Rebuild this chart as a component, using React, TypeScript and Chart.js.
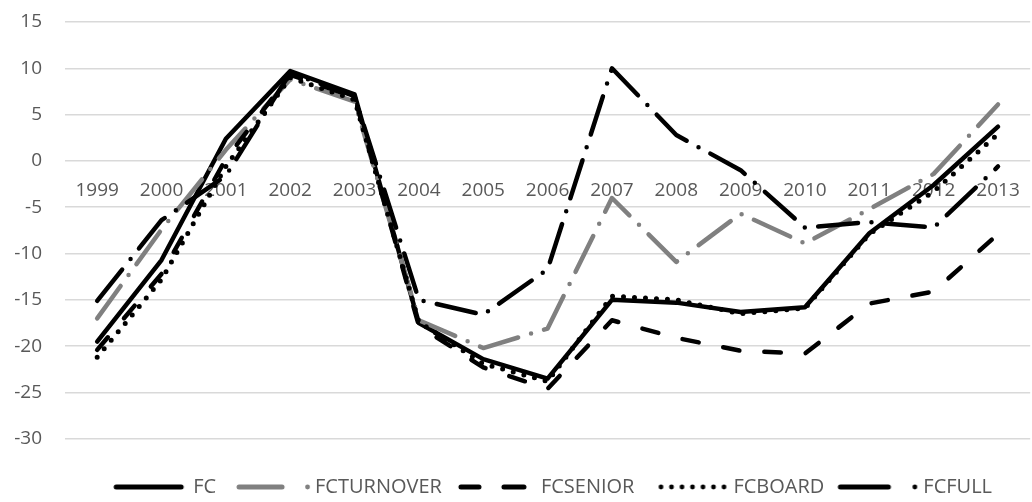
import React, { useEffect, useRef } from 'react';
import { Chart, registerables } from 'chart.js';

Chart.register(...registerables);

const years = ['1999', '2000', '2001', '2002', '2003', '2004', '2005', '2006', '2007', '2008', '2009', '2010', '2011', '2012', '2013'];
const seriesNames = ['FC', 'FCTURNOVER', 'FCSENIOR', 'FCBOARD', 'FCFULL'];
const fc = [-19.5, -10.7, 2.4, 9.7, 7.2, -17.5, -21.4, -23.5, -15.0, -15.3, -16.3, -15.8, -7.8, -2.6, 3.7];
const fcTurnover = [-17.0, -7.4, 1.2, 8.8, 6.4, -17.2, -20.2, -18.1, -4.0, -10.9, -5.7, -8.9, -5.2, -1.4, 6.1];
const fcSenior = [-20.4, -12.2, 0.2, 9.3, 6.9, -17.8, -22.3, -24.6, -17.2, -19.1, -20.5, -20.8, -15.4, -14.1, -7.9];
const fcBoard = [-21.2, -12.8, -0.6, 9.0, 6.6, -17.4, -21.9, -23.8, -14.6, -15.0, -16.5, -15.9, -7.9, -3.3, 2.9];
const fcFull = [-15.1, -6.4, -1.6, 9.5, 7.0, -15.0, -16.6, -11.7, 10.0, 2.8, -1.0, -7.2, -6.6, -7.2, -0.6];
const yMin = -30;
const yMax = 15;
const yStep = 5;

const BLACK = '#000000';
const GRAY = '#808080';
const TEXT = '#595959';
const FONT = "'Open Sans', sans-serif";

function makeSample(draw: (ctx: CanvasRenderingContext2D) => void): HTMLCanvasElement {
  const c = document.createElement('canvas');
  c.width = 100;
  c.height = 12;
  const ctx = c.getContext('2d') as CanvasRenderingContext2D;
  ctx.lineCap = 'round';
  draw(ctx);
  return c;
}

function seg(ctx: CanvasRenderingContext2D, a: number, b: number, color: string, w = 5) {
  ctx.strokeStyle = color;
  ctx.lineWidth = w;
  ctx.beginPath();
  ctx.moveTo(a + w / 2, 6);
  ctx.lineTo(b - w / 2, 6);
  ctx.stroke();
}

function dot(ctx: CanvasRenderingContext2D, x: number, color: string, r = 2.4) {
  ctx.fillStyle = color;
  ctx.beginPath();
  ctx.arc(x, 6, r, 0, Math.PI * 2);
  ctx.fill();
}

export default function App() {
  const ref = useRef<HTMLCanvasElement>(null);

  useEffect(() => {
    if (!ref.current) return;
    Chart.defaults.font.family = FONT;

    const samples = [
      makeSample((ctx) => seg(ctx, 20.5, 90.5, BLACK)),
      makeSample((ctx) => { seg(ctx, 21.5, 69.5, GRAY); dot(ctx, 92.5, GRAY); }),
      makeSample((ctx) => { seg(ctx, 17.5, 40.5, BLACK); seg(ctx, 60.5, 85.5, BLACK); }),
      makeSample((ctx) => { for (let i = 0; i < 7; i++) dot(ctx, 27.5 + i * 10.5, BLACK); }),
      makeSample((ctx) => { seg(ctx, 14.5, 67.5, BLACK); dot(ctx, 91.5, BLACK); }),
    ];

    const base = {
      pointRadius: 0,
      pointHoverRadius: 0,
      borderWidth: 4.5,
      tension: 0,
      fill: false,
      borderCapStyle: 'round' as const,
      borderJoinStyle: 'round' as const,
    };

    const chart = new Chart(ref.current, {
      type: 'line',
      data: {
        labels: years,
        datasets: [
          { ...base, label: seriesNames[0], data: fc, borderColor: BLACK, order: 4 },
          { ...base, label: seriesNames[1], data: fcTurnover, borderColor: GRAY, borderDash: [40, 13.5, 0, 13.5], order: 3 },
          { ...base, label: seriesNames[2], data: fcSenior, borderColor: BLACK, borderDash: [16.5, 25], order: 2 },
          { ...base, label: seriesNames[3], data: fcBoard, borderColor: BLACK, borderWidth: 5, borderDash: [0, 11], order: 1 },
          { ...base, label: seriesNames[4], data: fcFull, borderColor: BLACK, borderDash: [40, 13.5, 0, 13.5], order: 0 },
        ],
      },
      options: {
        animation: false,
        responsive: true,
        maintainAspectRatio: false,
        layout: { padding: { top: 22, left: 0, right: 0, bottom: 0 } },
        plugins: {
          tooltip: { enabled: false },
          legend: {
            position: 'bottom',
            fullSize: false,
            labels: {
              usePointStyle: true,
              pointStyleWidth: 80,
              boxHeight: 20,
              padding: 9,
              color: TEXT,
              font: { family: FONT, size: 20 },
              generateLabels: (ch: any) => {
                const items = Chart.defaults.plugins.legend.labels.generateLabels(ch);
                items.sort((a: any, b: any) => a.datasetIndex - b.datasetIndex);
                items.forEach((it: any) => {
                  it.pointStyle = samples[it.datasetIndex];
                  it.fontColor = TEXT;
                });
                return items;
              },
            },
            title: { display: true, text: '', font: { size: 1 }, padding: { top: 14, bottom: 14 } },
          },
        },
        scales: {
          x: {
            type: 'category',
            offset: true,
            position: { y: 0 } as any,
            grid: { display: false, drawTicks: false },
            border: { display: false },
            ticks: { color: TEXT, font: { family: FONT, size: 19 }, padding: 18, maxRotation: 0, autoSkip: false },
          },
          y: {
            min: yMin,
            max: yMax,
            ticks: { stepSize: yStep, padding: 23, color: TEXT, font: { family: FONT, size: 19 } },
            grid: { color: '#d9d9d9', lineWidth: 1.5, drawTicks: false },
            border: { display: false },
            afterFit: (s: any) => { s.width = 65; s.paddingTop = 0; s.paddingBottom = 0; },
          },
        },
      },
    });
    return () => chart.destroy();
  }, []);

  return (
    <div style={{ position: 'absolute', left: 0, top: 0, width: 1032, height: 502, overflow: 'hidden', background: '#ffffff' }}>
      <div style={{ position: 'relative', width: 1038, height: 507 }}>
        <canvas ref={ref} />
      </div>
    </div>
  );
}
